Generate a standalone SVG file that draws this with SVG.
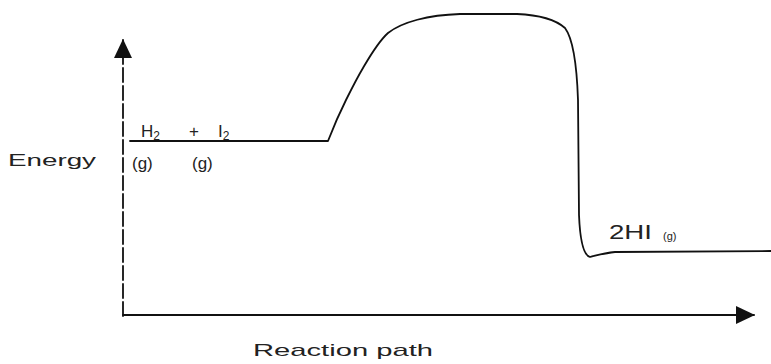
<svg xmlns="http://www.w3.org/2000/svg" width="771" height="364" viewBox="0 0 771 364">
<style>
.ln{fill:none;stroke:#111;stroke-width:1.8;stroke-linecap:round;stroke-linejoin:round}
.t{font-family:"Liberation Sans",Arial,sans-serif;fill:#222}
</style>
<defs>
<marker id="ahBig" markerWidth="20" markerHeight="20" refX="18" refY="10" orient="auto" markerUnits="userSpaceOnUse" viewBox="0 0 20 20">
<path d="M0,1 L19,10 L0,19 Z" fill="#111"/>
</marker>
</defs>
<rect width="771" height="364" fill="#fff"/>
<g id="connectors">
<path id="y-axis" class="ln" d="M123,316 L123,40" stroke-dasharray="14 4" marker-end="url(#ahBig)"/>
<path id="x-axis" class="ln" d="M123,315 L754,315" marker-end="url(#ahBig)"/>
<path id="energy-curve" class="ln" d="M130,141 L328,141 C333,128 340,112 346,100 C352,88 357,78 363,68 C370,56 378,42 388,33 C402,22 428,15 460,14 L517,14 C540,15 556,20 565,28 C574,40 577,70 578,100 L579,215 C580,240 583,255 590,257 C598,255 605,253 615,252 L771,251"/>
</g>
<g id="label-energy"><text class="t" x="8" y="166" font-size="17" textLength="88" lengthAdjust="spacingAndGlyphs">Energy</text></g>
<g id="node-reactants">
<text class="t" x="141" y="137" font-size="17">H<tspan font-size="12" dy="3">2</tspan></text>
<text class="t" x="189" y="137" font-size="17">+</text>
<text class="t" x="218" y="137" font-size="17">I<tspan font-size="12" dy="3">2</tspan></text>
<text class="t" x="132" y="169" font-size="17">(g)</text>
<text class="t" x="192" y="169" font-size="17">(g)</text>
</g>
<g id="node-products">
<text class="t" x="609" y="239" font-size="21" textLength="43" lengthAdjust="spacingAndGlyphs">2HI</text>
<text class="t" x="663" y="240" font-size="11">(g)</text>
</g>
<g id="label-path"><text class="t" x="253" y="356" font-size="17" textLength="180" lengthAdjust="spacingAndGlyphs">Reaction path</text></g>
</svg>
